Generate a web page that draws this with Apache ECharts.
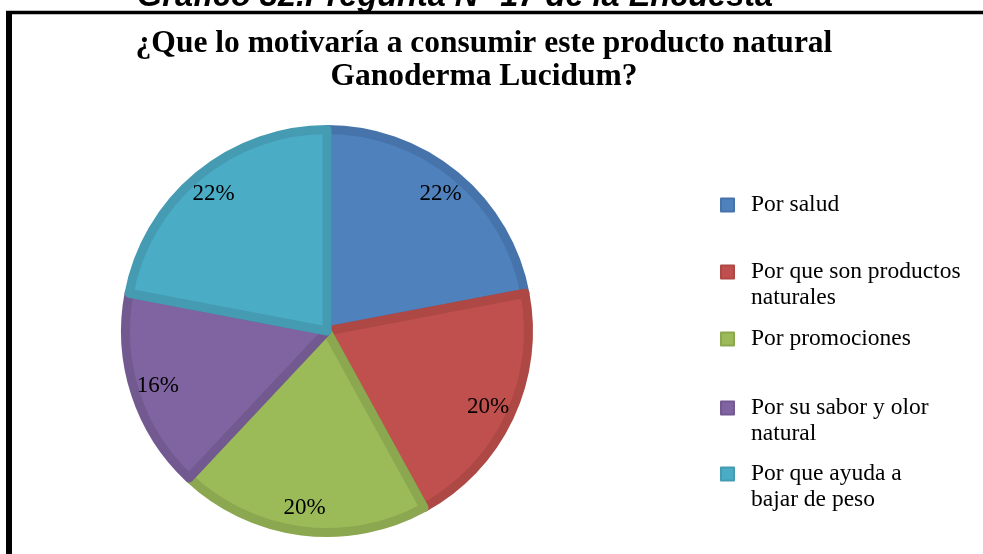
<!DOCTYPE html>
<html>
<head>
<meta charset="utf-8">
<script src="https://cdn.jsdelivr.net/npm/echarts@6/dist/echarts.min.js"></script>
<style>
  html, body { margin: 0; padding: 0; background: #fff; }
  #chart { width: 983px; height: 554px; }
</style>
</head>
<body>
<div id="chart"></div>
<script>
// datos
var categories = [
  'Por salud',
  'Por que son productos\nnaturales',
  'Por promociones',
  'Por su sabor y olor\nnatural',
  'Por que ayuda a\nbajar de peso'
]
var values = [22, 20, 20, 16, 22]
var fillColors = ['#4f81bd', '#c0504d', '#9bbb59', '#8064a2', '#4bacc6']
var edgeColors = ['#4673aa', '#ad4845', '#8ba74f', '#725a91', '#449bb2']

var chartTitle = '¿Que lo motivaría a consumir este producto natural\nGanoderma Lucidum?'
var caption = 'Gráfico 32.Pregunta N° 17 de la Encuesta'

var serif = '"Liberation Serif", "Times New Roman", serif'

var chart = echarts.init(document.getElementById('chart'))

var pieData = categories.map(function (name, i) {
  return {
    name: name,
    value: values[i],
    itemStyle: { color: fillColors[i], borderColor: edgeColors[i] }
  }
})

// una leyenda por entrada, para dejar el mismo espacio que el original
var legendTops = [192, 233, 326, 369, 435]
var legends = categories.map(function (name, i) {
  return {
    orient: 'vertical',
    left: 720,
    top: legendTops[i],
    padding: 0,
    icon: 'rect',
    itemWidth: 13,
    itemHeight: 13,
    selectedMode: false,
    data: [name],
    // linea vacia arriba: el cuadro queda a la altura de la primera linea
    formatter: function (n) {
      return n.indexOf('\n') >= 0 ? ' \n' + n : n
    },
    textStyle: {
      fontFamily: serif,
      fontSize: 23.5,
      lineHeight: 26,
      color: '#000',
      padding: [0, 0, 0, 12]
    }
  }
})

var option = {
  animation: false,
  backgroundColor: '#fff',
  title: {
    text: chartTitle,
    left: 484,
    textAlign: 'center',
    top: 27,
    padding: 0,
    textStyle: {
      fontFamily: serif,
      fontWeight: 'bold',
      fontSize: 31.5,
      lineHeight: 33,
      color: '#000'
    }
  },
  legend: legends,
  graphic: [
    {
      type: 'text',
      left: 137,
      top: -19,
      style: {
        text: caption,
        font: 'italic bold 32.5px "Liberation Sans", Arial, sans-serif',
        fill: '#000'
      }
    },
    {
      type: 'line',
      shape: { x1: 9, y1: 11, x2: 9, y2: 560 },
      style: { stroke: '#000', lineWidth: 6 }
    },
    {
      type: 'line',
      shape: { x1: 6, y1: 12.5, x2: 990, y2: 12.5 },
      style: { stroke: '#000', lineWidth: 3.5 }
    }
  ],
  series: [
    {
      type: 'pie',
      center: [327, 331],
      radius: [0, 201.5],
      startAngle: 90,
      clockwise: true,
      silent: true,
      itemStyle: { borderWidth: 9 },
      label: { show: false },
      labelLine: { show: false },
      data: pieData
    },
    {
      // anillo invisible solo para colocar los porcentajes
      type: 'pie',
      center: [327, 331],
      radius: [144, 206],
      startAngle: 90,
      clockwise: true,
      silent: true,
      itemStyle: { color: 'rgba(0,0,0,0)' },
      label: {
        show: true,
        position: 'inside',
        formatter: function (p) { return Math.round(p.percent) + '%' },
        fontFamily: serif,
        fontSize: 23,
        color: '#000'
      },
      labelLine: { show: false },
      data: categories.map(function (name, i) {
        return { name: name, value: values[i] }
      })
    }
  ]
}

chart.setOption(option)
</script>
</body>
</html>
